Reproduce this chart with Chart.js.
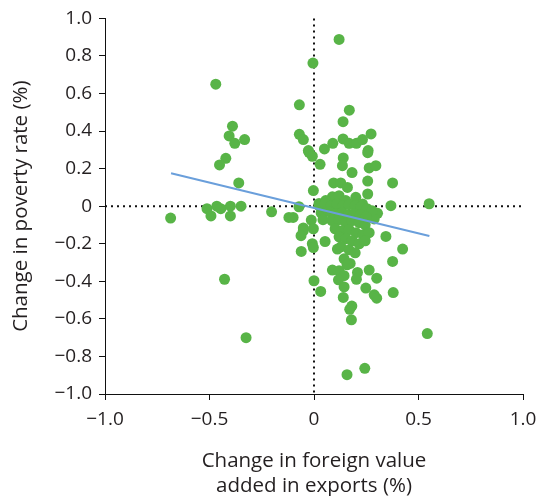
<!DOCTYPE html>
<html>
<head>
<meta charset="utf-8">
<script src="https://cdn.jsdelivr.net/npm/chart.js@4/dist/chart.umd.min.js"></script>
<style>
  html, body { margin: 0; padding: 0; background: #fff; }
  #wrap { width: 538px; height: 496px; }
</style>
</head>
<body>
<div id="wrap"><canvas id="chart" width="538" height="496"></canvas></div>
<script>
// change in foreign value added in exports (%)
var fvaChange = [
    -0.47, -0.39, -0.406, -0.379, -0.332, -0.422, -0.452, -0.36,
    -0.512, -0.465, -0.446, -0.40, -0.349, -0.493, -0.40, -0.686, -0.203, -0.12,
    -0.428, -0.325,
    0.12, -0.005, -0.07, 0.169, 0.139, -0.07, -0.051, 0.273, 0.09, 0.139, 0.168, 0.203, 0.232,
    -0.027, 0.05, 0.259,
    -0.024, -0.008, 0.257, 0.14, 0.136, 0.029, 0.182, 0.264, 0.296, 0.257, 0.376, 0.094, 0.128,
    0.16, -0.003, 0.257, 0.088, 0.12, 0.2, 0.056, 0.024, 0.152, 0.232,
    -0.072, 0.368, -0.10, -0.013, -0.051, -0.003, 0.304, 0.288,
    -0.051, -0.062, -0.008, -0.003, -0.061, 0.053, 0.112, 0.344, 0.424, 0.376,
    0.173, 0.088, 0.12, 0.144, 0.208, 0.203, 0.264, 0.30, 0.117, 0.0, 0.144, 0.032, 0.248,
    0.288, 0.379, 0.14, 0.30, 0.181, 0.171, 0.179, 0.542, 0.243, 0.158, 0.551,
    0.024, 0.053, 0.082, 0.11, 0.139, 0.168, 0.197, 0.225, 0.254, 0.278,
    0.034, 0.072, 0.101, 0.134, 0.163, 0.192, 0.221, 0.249,
    0.043, 0.086, 0.12, 0.153, 0.182, 0.216, 0.245,
    0.101, 0.134, 0.168, 0.201, 0.235, 0.264,
    0.12, 0.153, 0.182, 0.216, 0.245,
    0.129, 0.168, 0.197, 0.144, 0.158
];

// change in poverty rate (%)
var povertyChange = [
    0.65, 0.426, 0.374, 0.335, 0.355, 0.255, 0.22, 0.124,
    -0.013, 0.0, -0.013, 0.0, 0.0, -0.052, -0.052, -0.063, -0.03, -0.06,
    -0.389, -0.70,
    0.888, 0.762, 0.54, 0.511, 0.45, 0.383, 0.355, 0.385, 0.335, 0.358, 0.335, 0.335, 0.355,
    0.296, 0.305, 0.296,
    0.287, 0.266, 0.285, 0.257, 0.216, 0.223, 0.179, 0.204, 0.216, 0.134, 0.124, 0.124, 0.124,
    0.10, 0.083, 0.065, 0.05, 0.056, 0.047, 0.03, 0.015, 0.03, 0.012,
    -0.003, 0.003, -0.06, -0.074, -0.116, -0.12, -0.038, -0.068,
    -0.13, -0.157, -0.20, -0.22, -0.241, -0.188, -0.228, -0.161, -0.228, -0.294,
    -0.305, -0.34, -0.344, -0.37, -0.353, -0.389, -0.34, -0.383, -0.392, -0.397, -0.43, -0.454, -0.436,
    -0.472, -0.46, -0.486, -0.49, -0.532, -0.549, -0.605, -0.678, -0.863, -0.897, 0.013,
    0.003, 0.013, 0.003, 0.013, 0.003, 0.008, 0.003, -0.003, -0.013, -0.024,
    -0.035, -0.029, -0.04, -0.035, -0.045, -0.04, -0.045, -0.056,
    -0.072, -0.077, -0.072, -0.088, -0.077, -0.088, -0.099,
    -0.12, -0.131, -0.125, -0.141, -0.152, -0.141,
    -0.163, -0.173, -0.184, -0.2, -0.184,
    -0.216, -0.232, -0.248, -0.28, -0.312
];

// fitted trend line end points
var trendX = [-0.684, 0.552];
var trendY = [0.175, -0.159];

var xTicks = [-1, -0.5, 0, 0.5, 1];
var yTicks = [-1, -0.8, -0.6, -0.4, -0.2, 0, 0.2, 0.4, 0.6, 0.8, 1];

var FONT = "'Open Sans', 'DejaVu Sans', sans-serif";
var TEXT = '#231f20';

function fmt(v) {
    if (Math.abs(v) < 1e-9) return '0';
    return v.toFixed(1).replace('-', '\u2212');
}

var points = fvaChange.map(function(x, i) { return { x: x, y: povertyChange[i] }; });
var trend = trendX.map(function(x, i) { return { x: x, y: trendY[i] }; });

// dotted zero lines through the origin
var zeroLines = {
    id: 'zeroLines',
    beforeDatasetsDraw: function(chart) {
        var ctx = chart.ctx, a = chart.chartArea;
        var x0 = chart.scales.x.getPixelForValue(0);
        var y0 = chart.scales.y.getPixelForValue(0);
        ctx.save();
        ctx.strokeStyle = '#111';
        ctx.lineWidth = 2;
        ctx.setLineDash([2, 4]);
        ctx.beginPath();
        ctx.moveTo(a.left, y0);
        ctx.lineTo(a.right, y0);
        ctx.moveTo(x0, a.top);
        ctx.lineTo(x0, a.bottom);
        ctx.stroke();
        ctx.restore();
    }
};

new Chart(document.getElementById('chart').getContext('2d'), {
    type: 'scatter',
    data: {
        datasets: [{
            type: 'line',
            data: trend,
            borderColor: '#6a9fdb',
            borderWidth: 2,
            pointRadius: 0,
            fill: false,
            order: 0
        }, {
            data: points,
            backgroundColor: '#58b447',
            borderWidth: 0,
            pointRadius: 5.5,
            order: 1
        }]
    },
    options: {
        responsive: false,
        animation: false,
        layout: { padding: { top: 8, right: 15 } },
        plugins: { legend: { display: false }, tooltip: { enabled: false } },
        scales: {
            x: {
                type: 'linear',
                min: -1, max: 1,
                afterBuildTicks: function(s) { s.ticks = xTicks.map(function(v) { return { value: v }; }); },
                afterFit: function(s) {
                    s.height = 102;
                    s.paddingLeft = 0;
                    s.paddingRight = 0;
                },
                border: { display: true, color: '#111', width: 1 },
                grid: { drawOnChartArea: false, drawTicks: true, tickLength: 6, color: '#111' },
                ticks: {
                    padding: 8,
                    color: TEXT,
                    font: { family: FONT, size: 19 },
                    callback: function(v) { return fmt(v); }
                },
                title: {
                    display: true,
                    text: ['Change in foreign value', 'added in exports (%)'],
                    color: TEXT,
                    font: { family: FONT, size: 20.5, lineHeight: 1.22 },
                    padding: { top: 14, bottom: -3 }
                }
            },
            y: {
                type: 'linear',
                min: -1, max: 1,
                afterBuildTicks: function(s) { s.ticks = yTicks.map(function(v) { return { value: v }; }); },
                afterFit: function(s) { s.width = 105; },
                border: { display: true, color: '#111', width: 1 },
                grid: { drawOnChartArea: false, drawTicks: true, tickLength: 6, color: '#111' },
                ticks: {
                    padding: 7,
                    color: TEXT,
                    font: { family: FONT, size: 19 },
                    callback: function(v) { return fmt(v); }
                },
                title: {
                    display: true,
                    text: 'Change in poverty rate (%)',
                    color: TEXT,
                    font: { family: FONT, size: 20.5 },
                    padding: { top: 9, bottom: 0 }
                }
            }
        }
    },
    plugins: [zeroLines]
});
</script>
</body>
</html>
